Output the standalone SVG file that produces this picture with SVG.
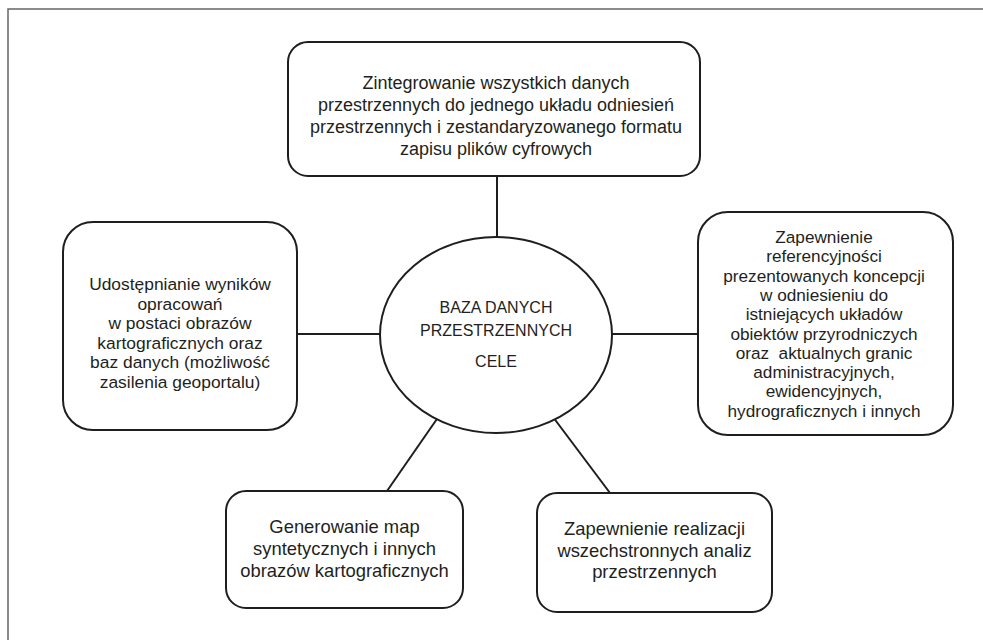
<svg xmlns="http://www.w3.org/2000/svg" width="983" height="640" viewBox="0 0 983 640">
<style>
.frame{stroke:#666;stroke-width:1.5;fill:none}
.box{fill:#fff;stroke:#1e1e1e;stroke-width:2}
.conn{stroke:#1e1e1e;stroke-width:2;fill:none}
text{font-family:"Liberation Sans",Arial,sans-serif;fill:#231f20;text-anchor:middle;white-space:pre}
.t{font-size:18px}
.l{font-size:17.4px}
.r{font-size:17.2px}
.b{font-size:18.4px}
.c{font-size:16px}
</style>
<rect width="983" height="640" fill="#fff"/>
<path class="frame" d="M8 640V9H983"/>
<g id="connectors">
<line class="conn" x1="497" y1="176" x2="497" y2="240"/>
<line class="conn" x1="297" y1="334" x2="384" y2="334"/>
<line class="conn" x1="608" y1="334" x2="698" y2="334"/>
<line class="conn" x1="387" y1="491" x2="439" y2="416"/>
<line class="conn" x1="610" y1="493" x2="553" y2="417"/>
</g>
<g id="center">
<ellipse class="box" cx="496" cy="335" rx="116" ry="98"/>
<text class="c" x="496" y="313">BAZA DANYCH</text>
<text class="c" x="496" y="336">PRZESTRZENNYCH</text>
<text class="c" x="496" y="367">CELE</text>
</g>
<g id="top">
<rect class="box" x="288" y="42" width="412" height="134" rx="20"/>
<text class="t" x="496" y="89">Zintegrowanie wszystkich danych</text>
<text class="t" x="496" y="111">przestrzennych do jednego układu odniesień</text>
<text class="t" x="496" y="133">przestrzennych i zestandaryzowanego formatu</text>
<text class="t" x="496" y="155">zapisu plików cyfrowych</text>
</g>
<g id="left">
<rect class="box" x="63" y="222" width="234" height="208" rx="30"/>
<text class="l" x="180" y="290">Udostępnianie wyników</text>
<text class="l" x="180" y="309.5">opracowań</text>
<text class="l" x="180" y="329">w postaci obrazów</text>
<text class="l" x="180" y="348.5">kartograficznych oraz</text>
<text class="l" x="180" y="368">baz danych (możliwość</text>
<text class="l" x="180" y="387.5">zasilenia geoportalu)</text>
</g>
<g id="right">
<rect class="box" x="698" y="212" width="255" height="223" rx="30"/>
<text class="r" x="824" y="243">Zapewnienie</text>
<text class="r" x="824" y="262.3">referencyjności</text>
<text class="r" x="824" y="281.6">prezentowanych koncepcji</text>
<text class="r" x="824" y="300.9">w odniesieniu do</text>
<text class="r" x="824" y="320.2">istniejących układów</text>
<text class="r" x="824" y="339.5">obiektów przyrodniczych</text>
<text class="r" x="824" y="358.8">oraz  aktualnych granic</text>
<text class="r" x="824" y="378.1">administracyjnych,</text>
<text class="r" x="824" y="397.4">ewidencyjnych,</text>
<text class="r" x="824" y="416.7">hydrograficznych i innych</text>
</g>
<g id="bottom-left">
<rect class="box" x="226" y="491" width="237" height="117" rx="20"/>
<text class="b" x="344.5" y="533">Generowanie map</text>
<text class="b" x="344.5" y="555">syntetycznych i innych</text>
<text class="b" x="344.5" y="577">obrazów kartograficznych</text>
</g>
<g id="bottom-right">
<rect class="box" x="537" y="493" width="235" height="119" rx="20"/>
<text class="b" x="654.5" y="535">Zapewnienie realizacji</text>
<text class="b" x="654.5" y="557">wszechstronnych analiz</text>
<text class="b" x="654.5" y="578">przestrzennych</text>
</g>
</svg>
